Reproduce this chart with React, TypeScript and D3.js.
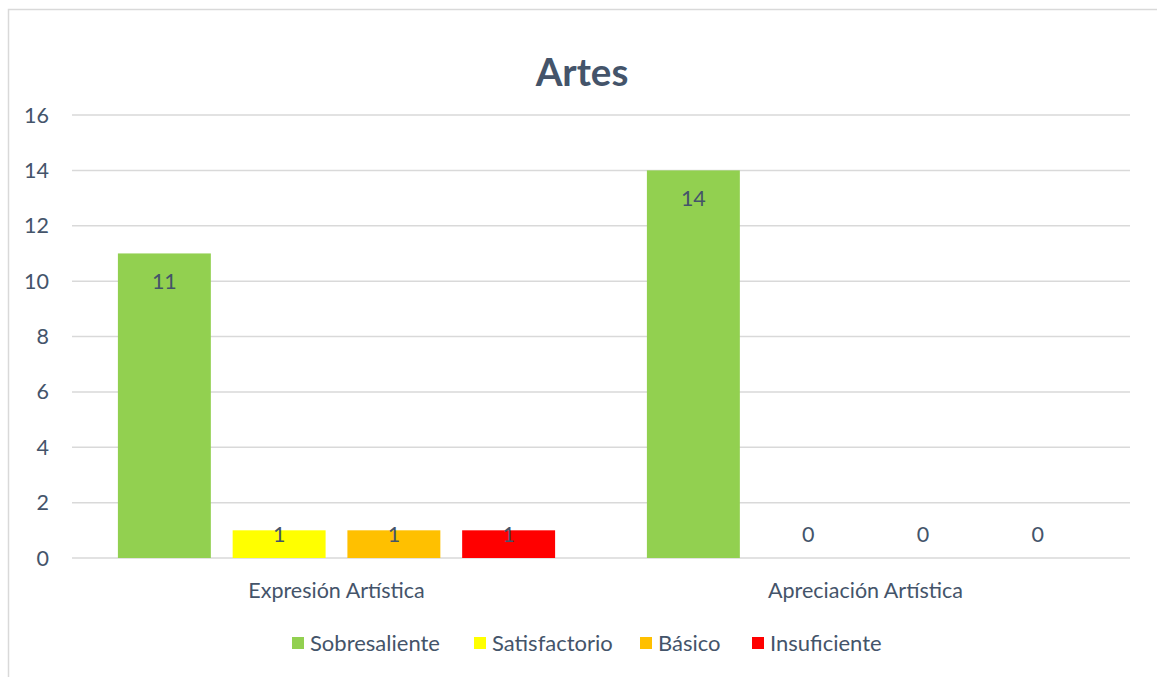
import React from "react";
import * as d3 from "d3";

const categories = ["Expresión Artística", "Apreciación Artística"];
const seriesNames = ["Sobresaliente", "Satisfactorio", "Básico", "Insuficiente"];
const seriesColors = ["#92D050", "#FFFF00", "#FFC000", "#FF0000"];
const values: number[][] = [
  [11, 14],
  [1, 0],
  [1, 0],
  [1, 0],
];
const yTicks = [0, 2, 4, 6, 8, 10, 12, 14, 16];
const title = "Artes";

const W = 1157;
const H = 677;
const FONT = "Lato, 'Open Sans', sans-serif";
const TEXT = "#44546A";
const FS = 21.5;

export default function App() {
  const left = 72, right = 1130, top = 115, bottom = 558;
  const x0 = d3.scaleBand<string>().domain(categories).range([left, right]).paddingInner(0).paddingOuter(0);
  const x1 = d3.scaleBand<string>().domain(seriesNames).range([0, x0.bandwidth()]).paddingInner(0.19).paddingOuter(0.4);
  const y = d3.scaleLinear().domain([0, 16]).range([bottom, top]);

  const legendX = [292, 474, 640, 752];

  return (
    <svg width={W} height={H} style={{ position: "absolute", left: 0, top: 0, display: "block" }}>
      <rect x={0} y={0} width={W} height={H} fill="#fff" />
      <rect x={8.5} y={9.5} width={W + 10} height={H + 10} fill="#fff" stroke="#D9D9D9" strokeWidth={1.5} />
      <text x={582} y={86} textAnchor="middle" fontFamily={FONT} fontWeight={700} fontSize={38.5} fill={TEXT}>
        {title}
      </text>
      {yTicks.map((t) => (
        <g key={t}>
          <line x1={left} x2={right} y1={y(t)} y2={y(t)} stroke="#D9D9D9" strokeWidth={1.5} />
          <text x={49} y={y(t)} dy="0.35em" textAnchor="end" fontFamily={FONT} fontSize={FS} fill={TEXT}>
            {t}
          </text>
        </g>
      ))}
      {categories.map((c, ci) => (
        <g key={c}>
          {seriesNames.map((s, si) => {
            const v = values[si][ci];
            const bx = (x0(c) as number) + (x1(s) as number);
            const bw = x1.bandwidth();
            const yTop = y(v);
            const ly = bottom - yTop > 40 ? yTop + 28 : y(0) - 24;
            return (
              <g key={s}>
                {v > 0 && <rect x={bx} y={yTop} width={bw} height={bottom - yTop} fill={seriesColors[si]} />}
                <text x={bx + bw / 2} y={ly} dy="0.35em" textAnchor="middle" fontFamily={FONT} fontSize={FS} fill={TEXT}>
                  {v}
                </text>
              </g>
            );
          })}
          <text x={(x0(c) as number) + x0.bandwidth() / 2} y={590} dy="0.35em" textAnchor="middle" fontFamily={FONT} fontSize={FS} fill={TEXT}>
            {c}
          </text>
        </g>
      ))}
      {seriesNames.map((s, i) => (
        <g key={s}>
          <rect x={legendX[i]} y={637} width={12} height={12} fill={seriesColors[i]} />
          <text x={legendX[i] + 18} y={643} dy="0.35em" fontFamily={FONT} fontSize={22} fill={TEXT}>
            {s}
          </text>
        </g>
      ))}
    </svg>
  );
}
